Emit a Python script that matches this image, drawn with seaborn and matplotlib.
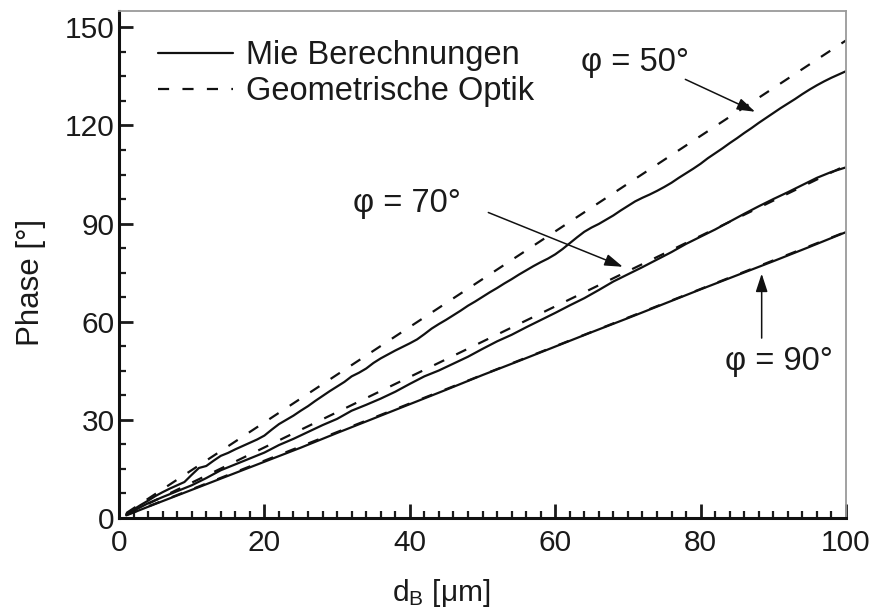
import matplotlib
matplotlib.use("Agg")
import matplotlib.pyplot as plt
from matplotlib.lines import Line2D
from matplotlib.ticker import MultipleLocator
import numpy as np
import pandas as pd
import seaborn as sns

# Mie calculations, phase [deg] vs. bubble diameter d_B [um]
d_mie50 = list(range(1, 101))
phase_mie50 = [
    1.2, 2.6, 4.0, 5.3, 6.7, 7.9, 9.0, 10.0, 11.0, 13.2,
    15.3, 15.9, 17.5, 19.0, 19.9, 21.0, 22.0, 23.0, 24.0, 25.2,
    27.0, 28.7, 30.0, 31.3, 32.8, 34.2, 35.8, 37.3, 38.8, 40.2,
    41.6, 43.3, 44.4, 45.7, 47.4, 48.8, 50.0, 51.2, 52.3, 53.4,
    54.6, 56.2, 57.9, 59.3, 60.6, 62.0, 63.4, 64.9, 66.2, 67.6,
    69.0, 70.3, 71.7, 73.0, 74.4, 75.7, 77.0, 78.2, 79.3, 80.6,
    82.2, 84.0, 85.8, 87.5, 88.8, 89.9, 91.2, 92.5, 94.0, 95.4,
    96.8, 97.9, 98.9, 100.0, 101.2, 102.5, 104.0, 105.4, 106.8, 108.3,
    110.0, 111.5, 113.0, 114.6, 116.1, 117.7, 119.2, 120.8, 122.3, 123.8,
    125.3, 126.7, 128.1, 129.6, 131.0, 132.3, 133.5, 134.6, 135.6, 136.6,
]

d_mie70 = [1, 2, 4, 6, 8, 10, 12, 14, 16, 18, 20, 22, 24, 26, 28, 30, 32, 34,
           36, 38, 40, 42, 44, 46, 48, 50, 52, 54, 56, 58, 60, 62, 64, 66, 68,
           70, 72, 74, 76, 78, 80, 82, 84, 86, 88, 90, 92, 94, 96, 98, 100]
phase_mie70 = [1.0, 2.2, 4.5, 6.4, 8.2, 10.0, 12.2, 14.6, 16.4, 18.2, 20.0,
               22.3, 24.2, 26.3, 28.4, 30.3, 32.8, 34.6, 36.5, 38.6, 41.0,
               43.3, 45.1, 47.2, 49.3, 51.7, 54.0, 56.0, 58.3, 60.5, 62.7,
               65.0, 67.2, 69.7, 72.3, 74.5, 76.7, 79.0, 81.3, 83.8, 86.0,
               88.2, 90.6, 93.0, 95.3, 97.5, 99.6, 101.8, 104.0, 105.8, 107.2]

d_mie90 = [1, 5, 10, 15, 20, 25, 30, 35, 40, 45, 50, 55, 60, 65, 70, 75, 80,
           85, 90, 95, 100]
phase_mie90 = [0.8, 4.3, 8.6, 12.9, 17.2, 21.5, 26.0, 30.4, 34.8, 39.2, 43.7,
               48.0, 52.4, 56.8, 61.1, 65.5, 69.9, 74.2, 78.5, 82.9, 87.4]

# Geometrical optics (straight lines)
d_geo = [1, 100]
phase_geo50 = [1.5, 146.0]
phase_geo70 = [1.1, 107.8]
phase_geo90 = [0.9, 87.5]

sns.set_style("ticks")
plt.rcParams["font.family"] = ["Liberation Sans", "DejaVu Sans"]
plt.rcParams["mathtext.fontset"] = "custom"
plt.rcParams["mathtext.rm"] = "Liberation Sans"
plt.rcParams["mathtext.it"] = "Liberation Sans:italic"

TXT = "#1a1a1a"
fig = plt.figure(figsize=(8.77, 6.10), dpi=100)
ax = fig.add_axes([119 / 877, 1 - 518 / 610, 727 / 877, 507 / 610])

LW = 1.6
dash = (0, (5.0, 6.0))

mie = [(d_mie50, phase_mie50), (d_mie70, phase_mie70), (d_mie90, phase_mie90)]
geo = [phase_geo50, phase_geo70, phase_geo90]

for yv in geo:
    sns.lineplot(x=d_geo, y=yv, ax=ax, color="#111111", linewidth=LW,
                 linestyle=dash)
for xv, yv in mie:
    sns.lineplot(x=xv, y=yv, ax=ax, color="#111111", linewidth=LW)

ax.set_xlim(0, 100)
ax.set_ylim(0, 155)
ax.xaxis.set_major_locator(MultipleLocator(20))
ax.xaxis.set_minor_locator(MultipleLocator(2))
ax.yaxis.set_major_locator(MultipleLocator(30))
ax.yaxis.set_minor_locator(MultipleLocator(7.5))

ax.tick_params(which="both", direction="in", colors=TXT, labelsize=21.5,
               top=False, right=False)
ax.tick_params(which="major", length=10, width=2.0)
ax.tick_params(which="minor", length=5, width=1.6)
ax.tick_params(axis="x", which="major", pad=8)
ax.tick_params(axis="y", which="major", pad=3)

for s in ("left", "bottom"):
    ax.spines[s].set_linewidth(2.2)
    ax.spines[s].set_color("#111111")
for s in ("top", "right"):
    ax.spines[s].set_linewidth(1.3)
    ax.spines[s].set_color("#9a9a9a")

ax.set_xlabel(r"d$_\mathrm{B}$ [μm]", fontsize=21.5, color=TXT)
ax.xaxis.set_label_coords(0.443, (518 - 577) / 507)
ax.set_ylabel("Phase [°]", fontsize=22.5, color=TXT)
ax.yaxis.set_label_coords((46 - 119) / 727, (518 - 282) / 507)

handles = [Line2D([], [], color="#111111", lw=LW),
           Line2D([], [], color="#111111", lw=LW, linestyle=dash)]
ax.legend(handles, ["Mie Berechnungen", "Geometrische Optik"],
          loc="upper left", bbox_to_anchor=(0.035, 0.968), frameon=False,
          fontsize=23.5, handlelength=2.3, handletextpad=0.4,
          labelspacing=0.15, labelcolor=TXT, borderaxespad=0)

# Angle labels with arrows
arrow = dict(arrowstyle="-|>,head_length=0.55,head_width=0.18",
             color="#111111", lw=1.1, mutation_scale=20, shrinkA=0, shrinkB=0)
ax.annotate("", xy=(87.5, 124.2), xytext=(77.9, 134.1), arrowprops=arrow)
ax.annotate("", xy=(69.3, 76.8), xytext=(50.8, 93.4), arrowprops=arrow)
ax.annotate("", xy=(88.4, 74.7), xytext=(88.4, 55.0), arrowprops=arrow)

ax.text(63.6, 139.3, "φ = 50°", fontsize=23.5, color=TXT, va="center", ha="left")
ax.text(32.2, 96.0, "φ = 70°", fontsize=23.5, color=TXT, va="center", ha="left")
ax.text(83.4, 47.8, "φ = 90°", fontsize=23.5, color=TXT, va="center", ha="left")

fig.savefig("out.png", dpi=100)
